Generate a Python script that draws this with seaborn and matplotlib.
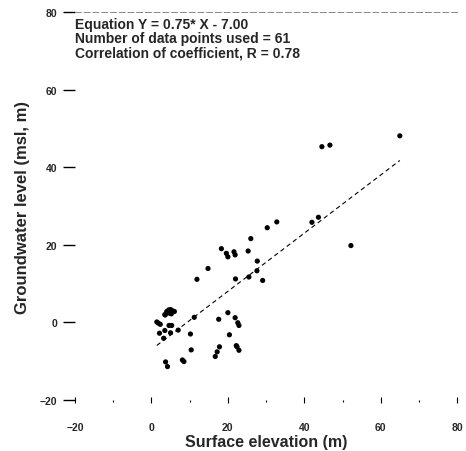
import matplotlib
matplotlib.use("Agg")
import matplotlib.pyplot as plt
import seaborn as sns
import pandas as pd
import numpy as np

# values
surface_elev = [
    65.0, 44.6, 46.7, 52.2, 42.0, 43.7, 32.8, 30.3, 26.0, 21.6, 21.9,
    25.3, 27.7, 27.6, 25.5, 22.0, 29.1, 18.3, 19.6, 20.0, 14.8, 11.9,
    3.5, 4.0, 4.5, 5.0, 5.5, 6.0, 5.2, 4.6, 4.8,
    3.6, 1.4, 1.8, 2.3, 4.6, 5.3, 7.0, 11.2, 17.6, 20.0, 21.9, 22.6, 22.9,
    2.1, 3.5, 5.0, 3.2, 10.2, 20.4, 22.2, 22.4, 22.9, 17.8, 17.2, 16.7,
    10.4, 8.1, 8.5, 3.7, 4.2,
]
gw_level = [
    48.1, 45.3, 45.7, 19.8, 25.8, 27.1, 25.9, 24.4, 21.6, 18.2, 17.4,
    18.4, 15.8, 13.3, 11.7, 11.2, 10.8, 19.0, 17.8, 16.9, 13.9, 11.1,
    2.0, 2.8, 3.2, 3.3, 3.0, 2.8, 2.2, 2.4, 2.9,
    1.9, 0.1, -0.2, -0.5, -0.8, -0.8, -2.0, 1.3, 0.8, 2.5, 1.2, -0.1, -0.8,
    -2.8, -2.1, -2.7, -4.1, -3.0, -3.2, -6.0, -6.3, -7.2, -6.3, -7.6, -8.8,
    -7.1, -9.7, -10.1, -10.2, -11.4,
]
slope, intercept, r_value = 0.75, -7.00, 0.78

x_ticks = [-20, 0, 20, 40, 60, 80]
y_ticks = [-20, 0, 20, 40, 60, 80]

df = pd.DataFrame({"elev": surface_elev, "gw": gw_level})
fit_x = np.array([df["elev"].min(), df["elev"].max()])
fit = pd.DataFrame({"elev": fit_x, "gw": slope * fit_x + intercept})

sns.set_style("white")
plt.rcParams["font.family"] = ["Liberation Sans", "DejaVu Sans"]

fig = plt.figure(figsize=(4.66, 4.52), dpi=100)
ax = fig.add_axes([0.161, 0.113, 0.82, 0.858])

sns.scatterplot(data=df, x="elev", y="gw", ax=ax, color="black", s=14,
                edgecolor="none")
sns.lineplot(data=fit, x="elev", y="gw", ax=ax, color="black", lw=0.8,
             dashes=False, linestyle=(0, (4, 3)))

ax.set_xlim(-20, 80)
ax.set_ylim(-20, 80)
ax.set_xticks(x_ticks)
ax.set_yticks(y_ticks)
ax.set_xticks(np.arange(-10, 80, 20), minor=True)

for side in ["left", "right", "bottom"]:
    ax.spines[side].set_visible(False)
ax.spines["top"].set_color("#888888")
ax.spines["top"].set_linestyle((0, (6, 3)))
ax.spines["top"].set_linewidth(0.7)

ax.tick_params(axis="y", direction="out", length=9, width=1.0, pad=4,
               labelsize=7.5, left=True, color="black")
ax.tick_params(axis="x", which="major", direction="inout", length=4, width=0.8,
               pad=14, labelsize=7.5, bottom=True, color="black")
ax.tick_params(axis="x", which="minor", direction="out", length=1.5, width=0.8,
               bottom=True, color="black")
for lab in ax.get_xticklabels() + ax.get_yticklabels():
    lab.set_fontweight("bold")

ax.set_xlabel("Surface elevation (m)", fontsize=11.5, fontweight="bold", labelpad=1)
ax.set_ylabel("Groundwater level (msl, m)", fontsize=12, fontweight="bold", labelpad=7)

info = (f"Equation Y = {slope:.2f}* X - {abs(intercept):.2f}\n"
        f"Number of data points used = {len(df)}\n"
        f"Correlation of coefficient, R = {r_value:.2f}")
ax.text(0.0, 0.988, info, transform=ax.transAxes, ha="left", va="top",
        fontsize=10, fontweight="bold", linespacing=1.05)

fig.savefig("out.png", dpi=100, facecolor="white")
